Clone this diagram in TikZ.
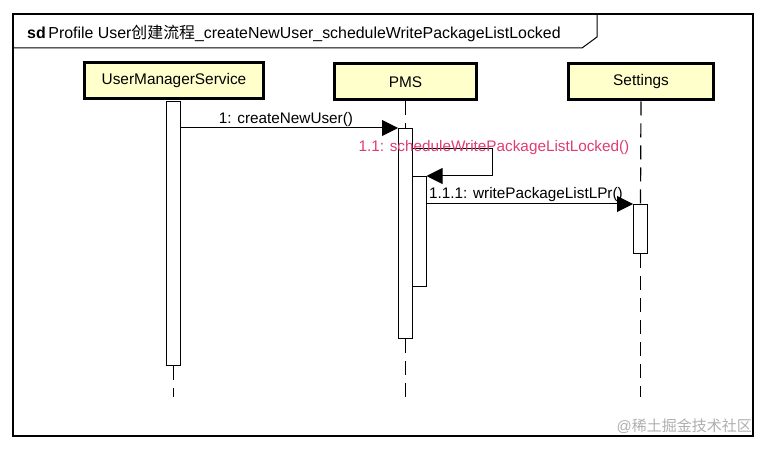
\documentclass[tikz,border=0pt]{standalone}
\usepackage{fontspec}
\setmainfont{Liberation Sans}
\newfontfamily\cjk{Noto Sans CJK SC}
\usetikzlibrary{arrows.meta}
\definecolor{boxfill}{RGB}{255,255,204}
\definecolor{msgred}{RGB}{222,60,112}
\definecolor{wmgray}{RGB}{175,175,175}
\tikzset{
  lifebox/.style={draw, line width=3pt, fill=boxfill, inner sep=0pt, minimum height=36pt, font=\fontsize{15.4pt}{18pt}\selectfont},
  actbar/.style={draw, line width=1pt, fill=white, inner sep=0pt, minimum width=14pt, anchor=north},
  lifeline/.style={line width=1.2pt, dash pattern=on 14pt off 8pt},
  msg/.style={line width=1pt, -{Triangle[length=16pt,width=16pt]}},
  msglabel/.style={inner sep=0pt, anchor=base, font=\fontsize{15.3pt}{18pt}\selectfont},
}
\begin{document}
\begin{tikzpicture}[x=1pt,y=-1pt]
\useasboundingbox (0,0) rectangle (768,449);
% frame
\draw[line width=1.5pt] (13,14) rectangle (753,436);
\draw[line width=1pt] (13,48) -- (582,48) -- (597,37) -- (597,14);
\node[inner sep=0pt, anchor=base west, font=\fontsize{15.9pt}{18pt}\selectfont] (title) at (27,39)
  {\textbf{sd}\,Profile User{\cjk 创建流程}\_createNewUser\_scheduleWritePackageListLocked};
% lifeline heads
\node[lifebox, minimum width=179pt] (ums) at (174,81) {UserManagerService};
\node[lifebox, minimum width=142pt] (pms) at (405.5,82) {PMS};
\node[lifebox, minimum width=145pt] (set) at (641,82) {Settings};
% activation bars
\node[actbar, minimum height=264pt] (umsbar) at (173.5,101) {};
\node[actbar, minimum height=210pt] (pmsbar) at (405.5,128) {};
\node[actbar, minimum height=110pt] (pmsbar2) at (419,176) {};
\node[actbar, minimum height=49pt] (setbar) at (640.5,204) {};
% lifeline ends
\coordinate (umsend) at (173.5,397);
\coordinate (pmsend) at (405.5,397);
\coordinate (setend) at (640.5,397);
% lifelines
\draw[lifeline] (umsbar.south) -- (umsend);
\draw[lifeline] (pms.south) -- (pmsbar.north);
\draw[lifeline] (pmsbar.south) -- (pmsend);
\draw[lifeline] (set.south) -- (setbar.north);
\draw[lifeline] (setbar.south) -- (setend);
% messages
\draw[msg] (umsbar.east |- pmsbar.north) -- (pmsbar.north west);
\node[msglabel] (l1) at (286,124) {1: createNewUser()};
\coordinate (selfc) at (492,149);
\draw[msg] (pmsbar.east |- selfc) -- (selfc) |- (pmsbar2.north east);
\node[msglabel, text=msgred] (l2) at (494,152) {1.1: scheduleWritePackageListLocked()};
\draw[msg] (pmsbar2.east |- setbar.north) -- (setbar.north west);
\node[msglabel] (l3) at (526,199) {1.1.1: writePackageListLPr()};
% watermark
\node[inner sep=0pt, anchor=base east, text=wmgray, font=\fontsize{15pt}{18pt}\selectfont] (wm) at (752,431) {@{\cjk 稀土掘金技术社区}};
\end{tikzpicture}
\end{document}
